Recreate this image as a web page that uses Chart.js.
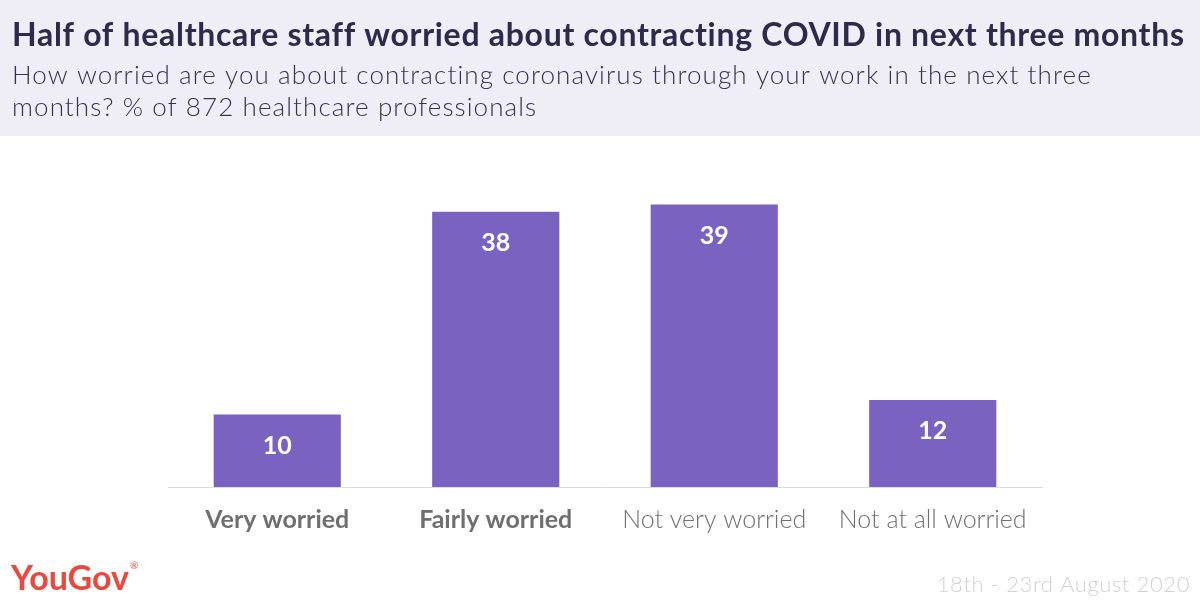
<!DOCTYPE html>
<html>
<head>
<meta charset="utf-8">
<script src="https://cdn.jsdelivr.net/npm/chart.js@4"></script>
<style>
html,body{margin:0;padding:0;background:#fff;}
#wrap{width:1200px;height:600px;position:relative;}
</style>
</head>
<body>
<div id="wrap"><canvas id="c" width="1200" height="600"></canvas></div>
<script>
const categories = ['Very worried', 'Fairly worried', 'Not very worried', 'Not at all worried'];
const values = [10, 38, 39, 12];
const boldLabels = [true, true, false, false];
const titleText = 'Half of healthcare staff worried about contracting COVID in next three months';
const subtitleLines = ['How worried are you about contracting coronavirus through your work in the next three', 'months? % of 872 healthcare professionals'];
const dateText = '18th - 23rd August 2020';
const logoText = 'YouGov';

const FONT = 'Lato, "Open Sans", sans-serif';
const BAR = '#7a62c0';

const decor = {
  id: 'decor',
  beforeDraw(chart) {
    const ctx = chart.ctx;
    ctx.save();
    ctx.fillStyle = '#efedf6';
    ctx.fillRect(0, 0, 1200, 136);
    ctx.textBaseline = 'middle';
    ctx.textAlign = 'left';
    ctx.fillStyle = '#2d2a4b';
    ctx.font = 'bold 32px ' + FONT;
    ctx.letterSpacing = '0.7px';
    ctx.fillText(titleText, 12, 36);
    ctx.fillStyle = '#36334f';
    ctx.font = '300 26px ' + FONT;
    ctx.letterSpacing = '1.1px';
    ctx.fillText(subtitleLines[0], 12, 76);
    ctx.fillText(subtitleLines[1], 12, 108);
    // footer
    ctx.letterSpacing = '0px';
    ctx.fillStyle = '#e8483d';
    ctx.font = 'bold 34px ' + FONT;
    ctx.fillText(logoText, 11, 579);
    const w = ctx.measureText(logoText).width;
    ctx.font = '10px ' + FONT;
    ctx.fillText('®', 11 + w + 1, 566);
    ctx.textAlign = 'right';
    ctx.fillStyle = '#d2d2d2';
    ctx.font = '300 22px ' + FONT;
    ctx.letterSpacing = '0.6px';
    ctx.fillText(dateText, 1190, 585);
    ctx.restore();
  },
  afterDatasetsDraw(chart) {
    const ctx = chart.ctx;
    const meta = chart.getDatasetMeta(0);
    ctx.save();
    ctx.fillStyle = '#ffffff';
    ctx.font = 'bold 25px ' + FONT;
    ctx.textAlign = 'center';
    ctx.textBaseline = 'middle';
    meta.data.forEach((bar, i) => {
      ctx.fillText(String(values[i]), bar.x, bar.y + 31);
    });
    ctx.restore();
  }
};

new Chart(document.getElementById('c'), {
  type: 'bar',
  data: {
    labels: categories,
    datasets: [{
      data: values,
      backgroundColor: BAR,
      borderWidth: 0,
      barPercentage: 0.97,
      categoryPercentage: 0.6
    }]
  },
  options: {
    responsive: false,
    animation: false,
    events: [],
    layout: { padding: { top: 161, left: 168, right: 158, bottom: 0 } },
    plugins: { legend: { display: false }, tooltip: { enabled: false }, title: { display: false } },
    scales: {
      x: {
        grid: { display: false },
        border: { display: true, color: '#dcdcdc', width: 1 },
        ticks: {
          color: '#6f6f6f',
          padding: 10,
          maxRotation: 0,
          font: (ctx) => ({ family: FONT, size: 25, weight: boldLabels[ctx.index] ? 'bold' : '300' })
        },
        afterFit: (scale) => { scale.height = 113; }
      },
      y: {
        display: false,
        min: 0,
        max: 45
      }
    }
  },
  plugins: [decor]
});
</script>
</body>
</html>
